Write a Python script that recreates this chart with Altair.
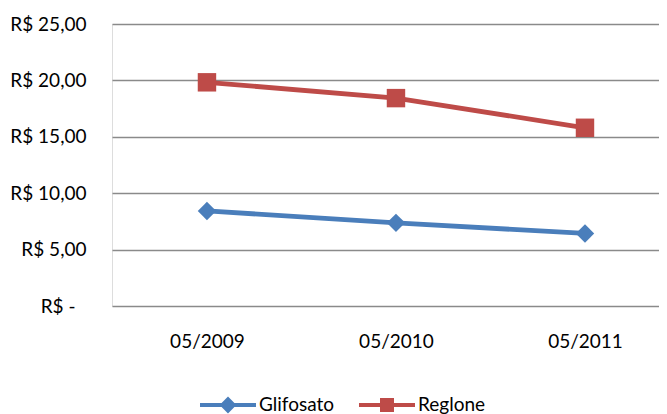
import altair as alt
import pandas as pd

dates = ["05/2009", "05/2010", "05/2011"]
glifosato = [8.43, 7.37, 6.43]
reglone = [19.83, 18.43, 15.80]
series = ["Glifosato", "Reglone"]
markers = ["diamond", "square"]
colors = ["#4A7EBB", "#BE4B48"]
y_ticks = [0, 5, 10, 15, 20, 25]

rows = []
for d, v in zip(dates, glifosato):
    rows.append({"data": d, "serie": "Glifosato", "marcador": markers[0], "valor": v})
for d, v in zip(dates, reglone):
    rows.append({"data": d, "serie": "Reglone", "marcador": markers[1], "valor": v})
df = pd.DataFrame(rows)

FONT = "Lato"

diamond_path = "M-1,-0.075H1V0.075H-1Z M0,-0.3L0.3,0L0,0.3L-0.3,0Z"
square_path = "M-1,-0.075H1V0.075H-1Z M-0.25,-0.25H0.25V0.25H-0.25Z"

x_enc = alt.X(
    "data:N",
    sort=dates,
    scale=alt.Scale(type="point", padding=0.447, align=0.562),
    axis=alt.Axis(
        title=None, domain=False, ticks=False, grid=False,
        labelFont=FONT, labelFontSize=19, labelColor="#000000",
        labelPadding=26, labelAngle=0,
    ),
)
y_enc = alt.Y(
    "valor:Q",
    scale=alt.Scale(domain=[0, 25], nice=False),
    axis=alt.Axis(
        title=None, domain=False, ticks=False, values=y_ticks,
        grid=True, gridColor="#8A8A8A", gridWidth=1.5,
        labelFont=FONT, labelFontSize=19, labelColor="#000000",
        labelPadding={"condition": {"test": "datum.value == 0", "value": 37}, "value": 26},
        minExtent=104, maxExtent=104,
        labelExpr="datum.value == 0 ? 'R$ -' : 'R$ ' + replace(format(datum.value, '.2f'), '.', ',')",
    ),
)
color_scale = alt.Scale(domain=series, range=colors)

legend = alt.Legend(
    orient="none", legendX=88, legendY=353, direction="horizontal",
    title=None, symbolSize=3136, symbolStrokeWidth=0,
    symbolType=alt.ExprRef(
        expr=f"datum.value === 'Glifosato' ? '{diamond_path}' : '{square_path}'"
    ),
    labelFont=FONT, labelFontSize=19, labelColor="#000000",
    labelOffset=3, columnPadding=24, symbolOpacity=1,
)

lines = alt.Chart(df).mark_line(strokeWidth=4.8).encode(
    x=x_enc, y=y_enc,
    color=alt.Color("serie:N", scale=color_scale),
    detail="serie:N",
)

points = alt.Chart(df).mark_point(filled=True, opacity=1, size=340).encode(
    x=x_enc, y=y_enc,
    color=alt.Color("serie:N", scale=color_scale, legend=legend),
    shape=alt.Shape(
        "marcador:N",
        scale=alt.Scale(domain=markers, range=markers),
        legend=None,
    ),
)

chart = (
    alt.layer(lines, points)
    .properties(
        width=547, height=282,
        padding={"top": 7, "left": 0, "right": 0, "bottom": 0},
    )
    .configure_view(stroke=None)
    .configure(background="#ffffff")
)

chart.save("out.html", embed_options={"renderer": "svg", "actions": False})
